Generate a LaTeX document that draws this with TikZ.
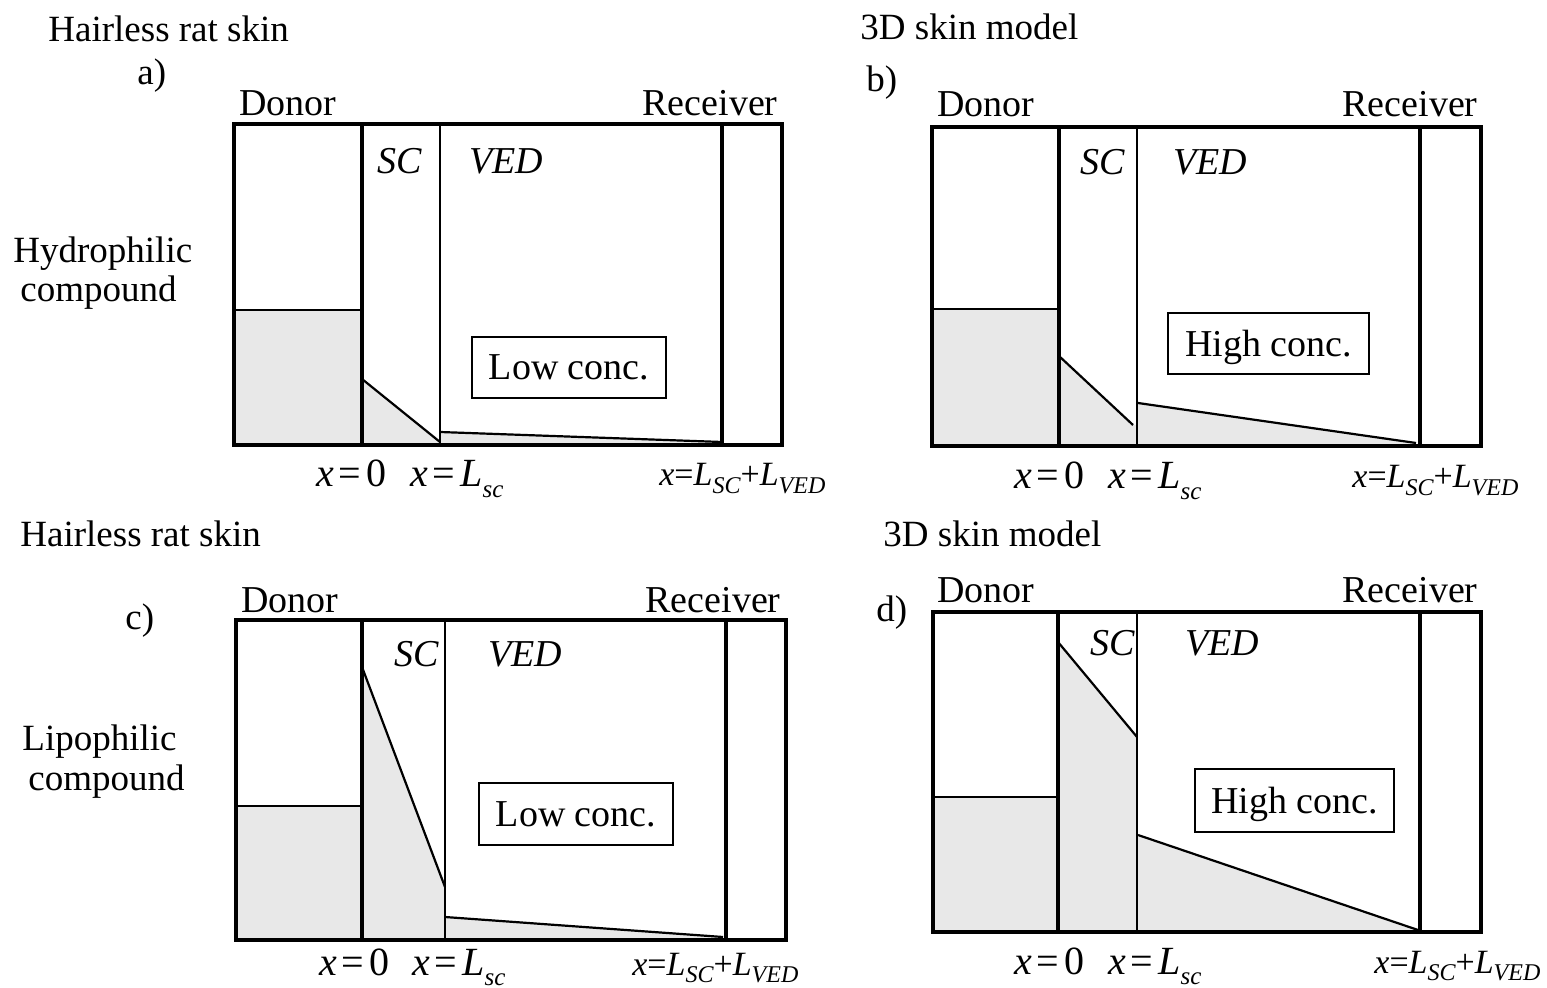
\documentclass[tikz,border=0pt]{standalone}
\usepackage{fontspec}
\newfontfamily\tms{Liberation Serif}
\newcommand\lsub[1]{\raisebox{-0.5ex}{\fontsize{12}{13}\selectfont\itshape #1}}
\newcommand\msub[1]{\raisebox{-0.55ex}{\fontsize{12.5}{13}\selectfont\itshape #1}}
\newcommand\eqs{\hspace{0.12em}=\hspace{0.12em}}
\newcommand\xzero{\itshape x\upshape\eqs 0}
\newcommand\xlsc{\itshape x\upshape\eqs\itshape L\msub{sc}}
\newcommand\xlall{\itshape x\upshape=\itshape L\lsub{SC}\upshape+\itshape L\lsub{VED}}
\tikzset{
 thickln/.style={line width=2.2pt},
 thinln/.style={line width=0.7pt},
 profile/.style={line width=1.1pt},
 shade/.style={fill=black!9},
 lab/.style={inner sep=0pt, font=\tms\fontsize{18.5}{20}\selectfont, anchor=base west},
 lmlab/.style={inner sep=0pt, font=\tms\fontsize{19}{21}\selectfont, anchor=base west},
 lmlabr/.style={lmlab, anchor=base east},
 itlab/.style={inner sep=0pt, font=\tms\itshape\fontsize{19}{21}\selectfont, anchor=base west},
 mlab/.style={inner sep=0pt, font=\tms\fontsize{20}{22}\selectfont, anchor=base west},
 tlab/.style={inner sep=0pt, font=\tms\fontsize{17}{19}\selectfont, anchor=base west},
 concbox/.style={draw, line width=1.3pt, inner sep=0pt, text depth=0pt, font=\tms\fontsize{19}{21}\selectfont}
}
\begin{document}
\begin{tikzpicture}[x=0.5pt,y=-0.5pt]
\useasboundingbox (0,0) rectangle (1547,988);

% ---------- side labels ----------
\node[lab] (ta) at (48,42) {Hairless rat skin};
\node[lab] (la) at (137,85) {a)};
\node[lab] (hy) at (13,263) {Hydrophilic};
\node[lab] (hc) at (20,302) {compound};
\node[lab] (tb) at (860,40) {3D skin model};
\node[lab] (lb) at (866,92) {b)};
\node[lab] (tc) at (20,546) {Hairless rat skin};
\node[lab] (lc) at (125,630) {c)};
\node[lab] (li) at (22,750) {Lipophilic};
\node[lab] (lic) at (28,790) {compound};
\node[lab] (td) at (883,546) {3D skin model};
\node[lab] (ld) at (876,622) {d)};

% ---------- panel a ----------
\fill[shade] (234,310) rectangle (362,445);
\fill[shade] (362,445) -- (362,379) -- (440,442) -- (440,445) -- cycle;
\fill[shade] (440,445) -- (440,432) -- (722,442) -- (722,445) -- cycle;
\draw[thinln] (234,310) -- (362,310);
\draw[thinln] (440,124) -- (440,445);
\draw[profile] (362,379) -- (440,442);
\draw[profile] (440,432) -- (722,442);
\draw[thickln] (234,124) rectangle (782,445);
\draw[thickln] (362,124) -- (362,445);
\draw[thickln] (722,124) -- (722,445);
\node[lmlab] (adon) at (239,116) {Donor};
\node[lmlabr] (arec) at (778,116) {Receiver};
\node[itlab] (asc) at (377,174) {SC};
\node[itlab] (aved) at (469,174) {VED};
\node[concbox, minimum width=97pt, minimum height=30.5pt] (aconc) at (569,367.5) {Low conc.};
\node[mlab] (ax0) at (316,487) {\xzero};
\node[mlab] (ax1) at (410,487) {\xlsc};
\node[tlab] (ax2) at (659,486) {\xlall};

% ---------- panel b ----------
\fill[shade] (932,309) rectangle (1059,446);
\fill[shade] (1059,446) -- (1059,356) -- (1134,425) -- (1137,425) -- (1137,446) -- cycle;
\fill[shade] (1138,446) -- (1138,403) -- (1414,443) -- (1420,446) -- cycle;
\draw[thinln] (932,309) -- (1059,309);
\draw[thinln] (1137,127) -- (1137,446);
\draw[profile] (1059,356) -- (1133,425);
\draw[profile] (1138,403) -- (1416,443);
\draw[thickln] (932,127) rectangle (1481,446);
\draw[thickln] (1059,127) -- (1059,446);
\draw[thickln] (1420,127) -- (1420,446);
\node[lmlab] (bdon) at (937,117) {Donor};
\node[lmlabr] (brec) at (1478,117) {Receiver};
\node[itlab] (bsc) at (1080,175) {SC};
\node[itlab] (bved) at (1173,175) {VED};
\node[concbox, minimum width=100.5pt, minimum height=30.5pt] (bconc) at (1268.5,343.5) {High conc.};
\node[mlab] (bx0) at (1014,489) {\xzero};
\node[mlab] (bx1) at (1108,489) {\xlsc};
\node[tlab] (bx2) at (1352,488) {\xlall};

% ---------- panel c ----------
\fill[shade] (236,806) rectangle (362,940);
\fill[shade] (362,940) -- (362,667) -- (445,887) -- (445,940) -- cycle;
\fill[shade] (445,940) -- (445,917) -- (723,937) -- (726,940) -- cycle;
\draw[thinln] (236,806) -- (362,806);
\draw[thinln] (445,620) -- (445,940);
\draw[profile] (362,667) -- (445,887);
\draw[profile] (445,917) -- (723,937);
\draw[thickln] (236,620) rectangle (786,940);
\draw[thickln] (362,620) -- (362,940);
\draw[thickln] (726,620) -- (726,940);
\node[lmlab] (cdon) at (241,612) {Donor};
\node[lmlabr] (crec) at (781,612) {Receiver};
\node[itlab] (csc) at (394,666) {SC};
\node[itlab] (cved) at (488,666) {VED};
\node[concbox, minimum width=97pt, minimum height=31pt] (cconc) at (576,814) {Low conc.};
\node[mlab] (cx0) at (319,975) {\xzero};
\node[mlab] (cx1) at (412,975) {\xlsc};
\node[tlab] (cx2) at (632,975) {\xlall};

% ---------- panel d ----------
\fill[shade] (933,797) rectangle (1058,932);
\fill[shade] (1058,932) -- (1058,642) -- (1137,737) -- (1137,932) -- cycle;
\fill[shade] (1138,932) -- (1138,835) -- (1418,930) -- (1420,932) -- cycle;
\draw[thinln] (933,797) -- (1058,797);
\draw[thinln] (1137,612) -- (1137,932);
\draw[profile] (1058,642) -- (1137,737);
\draw[profile] (1138,835) -- (1418,930);
\draw[thickln] (933,612) rectangle (1481,932);
\draw[thickln] (1058,612) -- (1058,932);
\draw[thickln] (1420,612) -- (1420,932);
\node[lmlab] (ddon) at (937,603) {Donor};
\node[lmlabr] (drec) at (1478,603) {Receiver};
\node[itlab] (dsc) at (1090,655) {SC};
\node[itlab] (dved) at (1185,655) {VED};
\node[concbox, minimum width=99.5pt, minimum height=31.5pt] (dconc) at (1294.5,800.5) {High conc.};
\node[mlab] (dx0) at (1014,974) {\xzero};
\node[mlab] (dx1) at (1108,974) {\xlsc};
\node[tlab] (dx2) at (1374,973) {\xlall};
\end{tikzpicture}
\end{document}
